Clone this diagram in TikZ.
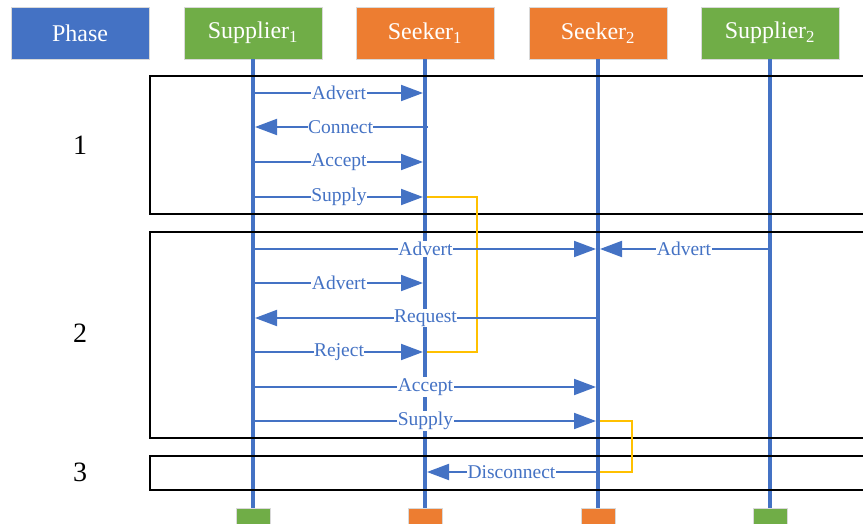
\documentclass[tikz,border=0pt]{standalone}
\usepackage{fontspec}
\setmainfont{Liberation Serif}
\usetikzlibrary{arrows.meta}
\definecolor{cblue}{HTML}{4472C4}
\definecolor{cgreen}{HTML}{70AD47}
\definecolor{corange}{HTML}{ED7D31}
\definecolor{cyellow}{HTML}{FFC000}
\begin{document}
\begin{tikzpicture}[x=1pt,y=-1pt,
  head/.style={minimum width=138pt, minimum height=52pt, draw=black!15, line width=0.8pt,
    text=white, font=\fontsize{24}{26}\selectfont, inner sep=0pt},
  foot/.style={minimum width=34pt, minimum height=18pt, inner sep=0pt, draw=black!15, line width=0.6pt},
  life/.style={cblue, line width=4pt},
  msg/.style={cblue, line width=2pt, shorten >=2pt, -{Triangle[length=22pt,width=16pt]}},
  lbl/.style={fill=white, text=cblue, font=\fontsize{19.5}{21}\selectfont, inner xsep=0.5pt, inner ysep=1pt},
  phasebox/.style={draw=black, line width=1.5pt},
  bracket/.style={draw=cyellow, line width=1.5pt},
  phasenum/.style={font=\fontsize{28}{30}\selectfont}
]
\useasboundingbox (0,0) rectangle (863,524);
\clip (0,0) rectangle (863,524);

% header row
\node[head, fill=cblue]   (ph) at (80,33)  {Phase};
\node[head, fill=cgreen]  (s1) at (253,33) {Supplier\textsubscript{1}};
\node[head, fill=corange] (k1) at (425,33) {Seeker\textsubscript{1}};
\node[head, fill=corange] (k2) at (598,33) {Seeker\textsubscript{2}};
\node[head, fill=cgreen]  (s2) at (770,33) {Supplier\textsubscript{2}};

% lifeline feet
\node[foot, fill=cgreen]  (s1f) at (253,517) {};
\node[foot, fill=corange] (k1f) at (425,517) {};
\node[foot, fill=corange] (k2f) at (598,517) {};
\node[foot, fill=cgreen]  (s2f) at (770,517) {};

% lifelines
\draw[life] (s1.south) -- (s1f.north);
\draw[life] (k1.south) -- (k1f.north);
\draw[life] (k2.south) -- (k2f.north);
\draw[life] (s2.south) -- (s2f.north);

% phase frames
\draw[phasebox] (150,76)  rectangle (880,214);
\draw[phasebox] (150,232) rectangle (880,438);
\draw[phasebox] (150,456) rectangle (880,490);
\node[phasenum] (p1) at (80,145) {1};
\node[phasenum] (p2) at (80,333) {2};
\node[phasenum] (p3) at (80,472) {3};

% message rows
\coordinate (r1) at (0,93);
\coordinate (r2) at (0,127);
\coordinate (r3) at (0,162);
\coordinate (r4) at (0,197);
\coordinate (r5) at (0,249);
\coordinate (r6) at (0,283);
\coordinate (r7) at (0,318);
\coordinate (r8) at (0,352);
\coordinate (r9) at (0,387);
\coordinate (r10) at (0,421);
\coordinate (r11) at (0,472);

% supply brackets
\draw[bracket] ([xshift=2pt]k1 |- r4) -| ([xshift=52pt]k1 |- r8) -- ([xshift=2pt]k1 |- r8);
\draw[bracket] ([xshift=2pt]k2 |- r10) -| ([xshift=34pt]k2 |- r11) -- ([xshift=2pt]k2 |- r11);

% phase 1
\draw[msg] (s1 |- r1) -- node[lbl] {Advert} (k1 |- r1);
\draw[msg] ([xshift=3pt]k1 |- r2) -- node[lbl] {Connect} (s1 |- r2);
\draw[msg] (s1 |- r3) -- node[lbl] {Accept} (k1 |- r3);
\draw[msg] (s1 |- r4) -- node[lbl] {Supply} (k1 |- r4);

% phase 2
\draw[msg] (s1 |- r5) -- node[lbl] {Advert} (k2 |- r5);
\draw[msg] (s2 |- r5) -- node[lbl] {Advert} (k2 |- r5);
\draw[msg] (s1 |- r6) -- node[lbl] {Advert} (k1 |- r6);
\draw[msg] (k2 |- r7) -- node[lbl] {Request} (s1 |- r7);
\draw[msg] (s1 |- r8) -- node[lbl] {Reject} (k1 |- r8);
\draw[msg] (s1 |- r9) -- node[lbl] {Accept} (k2 |- r9);
\draw[msg] (s1 |- r10) -- node[lbl] {Supply} (k2 |- r10);

% phase 3
\draw[msg] (k2 |- r11) -- node[lbl] {Disconnect} (k1 |- r11);
\end{tikzpicture}
\end{document}
